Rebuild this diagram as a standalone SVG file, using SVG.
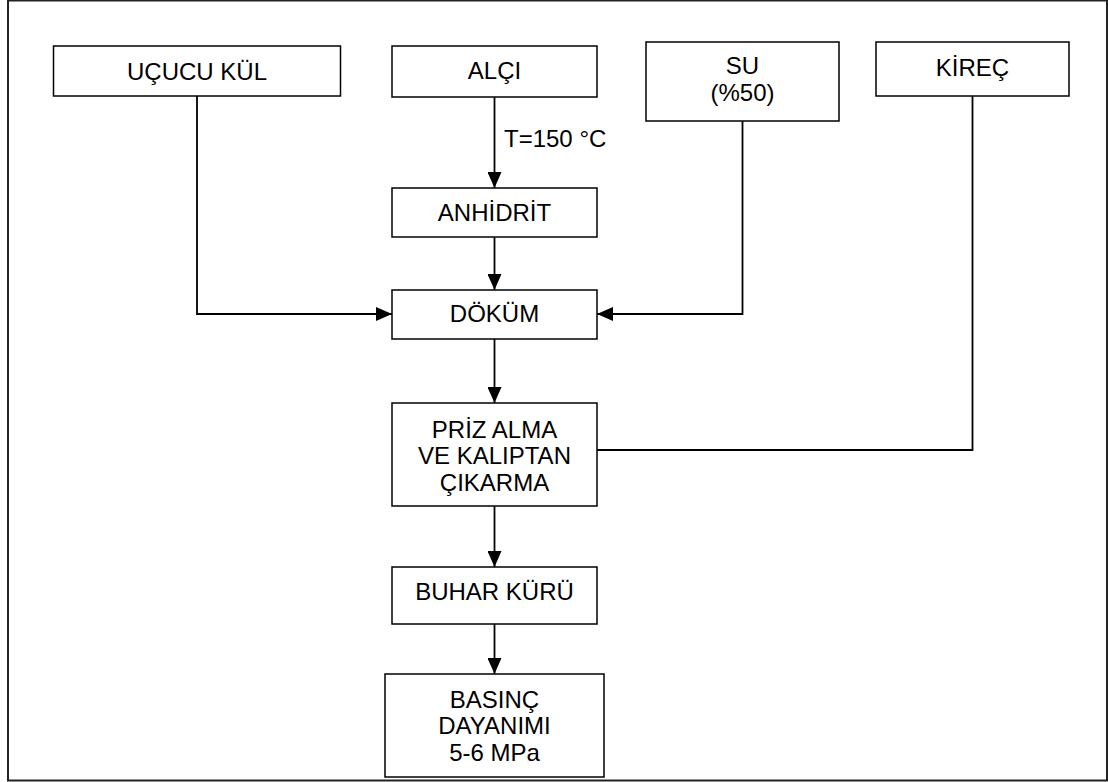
<svg xmlns="http://www.w3.org/2000/svg" width="1108" height="782" viewBox="0 0 1108 782">
<style>
.box{fill:#fff;stroke:#000;stroke-width:1.5}
.t{font-family:"Liberation Sans",Arial,sans-serif;font-size:24px;fill:#000;text-anchor:middle}
.c{fill:none;stroke:#000;stroke-width:1.8}
</style>
<defs>
<marker id="ah" markerUnits="userSpaceOnUse" markerWidth="16" markerHeight="14" refX="16" refY="7" orient="auto" viewBox="0 0 16 14">
<path d="M0,0 L16,7 L0,14 z" fill="#000"/>
</marker>
</defs>
<rect x="0" y="0" width="1108" height="782" fill="#fff"/>
<rect x="8" y="0.5" width="1099" height="780" fill="none" stroke="#222" stroke-width="2"/>
<g id="connectors">
<path class="c" d="M494.5,97 V188" marker-end="url(#ah)"/>
<path class="c" d="M494.5,237 V290" marker-end="url(#ah)"/>
<path class="c" d="M197,96 V314 H392" marker-end="url(#ah)"/>
<path class="c" d="M742.5,121 V314 H597" marker-end="url(#ah)"/>
<path class="c" d="M494.5,339 V403" marker-end="url(#ah)"/>
<path class="c" d="M972.5,96 V450 H597"/>
<path class="c" d="M494.5,506 V567" marker-end="url(#ah)"/>
<path class="c" d="M494.5,624 V674" marker-end="url(#ah)"/>
<text class="t" x="504" y="147" style="text-anchor:start">T=150 °C</text>
</g>
<g id="ucucu-kul"><rect class="box" x="53.5" y="46" width="287" height="50"/><text class="t" x="197" y="80">UÇUCU KÜL</text></g>
<g id="alci"><rect class="box" x="392" y="46" width="205" height="51"/><text class="t" x="494.5" y="79">ALÇI</text></g>
<g id="su"><rect class="box" x="646" y="42" width="193" height="79"/><text class="t" x="742.5" y="74">SU</text><text class="t" x="742.5" y="101">(%50)</text></g>
<g id="kirec"><rect class="box" x="876" y="42" width="193" height="54"/><text class="t" x="972.5" y="76">KİREÇ</text></g>
<g id="anhidrit"><rect class="box" x="392" y="188" width="205" height="49"/><text class="t" x="494.5" y="221">ANHİDRİT</text></g>
<g id="dokum"><rect class="box" x="392" y="290" width="205" height="49"/><text class="t" x="494.5" y="322">DÖKÜM</text></g>
<g id="priz"><rect class="box" x="392" y="403" width="205" height="103"/><text class="t" x="494.5" y="438">PRİZ ALMA</text><text class="t" x="494.5" y="464">VE KALIPTAN</text><text class="t" x="494.5" y="491">ÇIKARMA</text></g>
<g id="buhar"><rect class="box" x="392" y="567" width="205" height="57"/><text class="t" x="494.5" y="600">BUHAR KÜRÜ</text></g>
<g id="basinc"><rect class="box" x="385" y="674" width="219" height="103"/><text class="t" x="494.5" y="708">BASINÇ</text><text class="t" x="494.5" y="734">DAYANIMI</text><text class="t" x="494.5" y="761">5-6 MPa</text></g>
</svg>
